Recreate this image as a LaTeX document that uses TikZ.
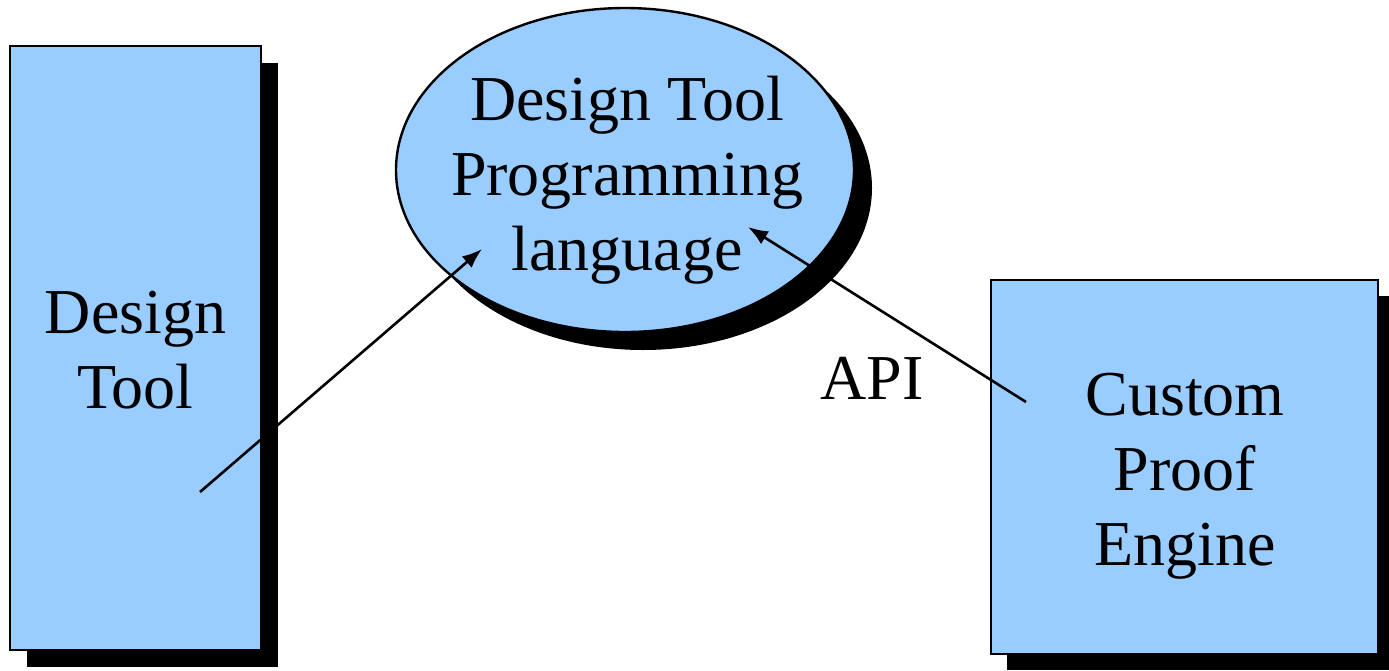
\documentclass[tikz,border=0pt]{standalone}
\usepackage{fontspec}
\setmainfont{Liberation Serif}
\usetikzlibrary{arrows.meta,shapes.geometric}
\begin{document}
\begin{tikzpicture}[x=1pt,y=1pt,
  panel/.style={draw=black,line width=2.8pt,fill=paleblue},
  shade/.style={fill=black,draw=none},
  label/.style={font=\fontsize{64}{75}\selectfont,align=center,text=black},
  link/.style={line width=2.6pt,-{Latex[length=20pt,width=15pt]}}]
\definecolor{paleblue}{HTML}{99CCFF}
\useasboundingbox (0,0) rectangle (1389,-670);

% drop shadows
\fill[shade] (27,-63) rectangle (278,-667);
\fill[shade] (1007,-296) rectangle (1394,-670);
\fill[shade] (643,-188) ellipse [x radius=229, y radius=162];

% left tool box
\draw[panel] (10,-46) rectangle (261,-650);
\node[label] (tool) at (135.5,-350) {Design\\Tool};

% programming language ellipse
\draw[panel,line width=2.4pt] (625,-170) ellipse [x radius=229, y radius=162];
\node[label] (lang) at (627,-180) {Design Tool\\Programming\\language};

% proof engine box
\draw[panel] (991,-280) rectangle (1378,-654);
\node[label] (engine) at (1185,-476) {Custom\\Proof\\Engine};

% API label
\node[label,anchor=center] (api) at (872,-378) {API};

% connectors
\coordinate (toolport) at (200,-492);
\coordinate (langin1) at (482,-249);
\coordinate (engineport) at (1026,-402);
\coordinate (langin2) at (748,-227);
\draw[link] (toolport) -- (langin1);
\draw[link] (engineport) -- (langin2);
\end{tikzpicture}
\end{document}
